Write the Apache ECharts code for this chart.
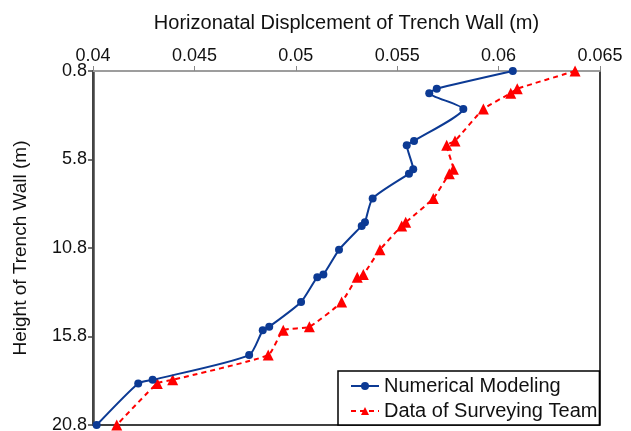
<!DOCTYPE html>
<html>
<head>
<meta charset="utf-8">
<script src="https://cdn.jsdelivr.net/npm/echarts@6/dist/echarts.min.js"></script>
<style>
  html, body { margin: 0; padding: 0; background: #fff; }
  #chart { width: 631px; height: 431px; }
</style>
</head>
<body>
<div id="chart"></div>
<script>
// Depth below the top of the trench wall (m)
const heights = [0.8, 1.8, 2.05, 2.95, 4.75, 5.0, 6.35, 6.6, 8.0, 9.35, 9.55,
                 10.9, 12.3, 12.45, 13.85, 15.25, 15.45, 16.85, 18.25, 18.45, 20.8];

// Horizontal displacement (m) from the numerical model
const numericalModeling = [0.0607, 0.05695, 0.05658, 0.05826, 0.05583, 0.05547,
                           0.05579, 0.05558, 0.05379, 0.05341, 0.05325, 0.05213,
                           0.05136, 0.05106, 0.05026, 0.04869, 0.04837, 0.0477,
                           0.04294, 0.04223, 0.04018];

// Horizontal displacement (m) measured by the surveying team
const surveyingTeam = [0.06377, 0.06092, 0.0606, 0.05925, 0.05785, 0.05744,
                       0.05777, 0.05757, 0.05678, 0.05542, 0.05522, 0.05415,
                       0.05333, 0.05303, 0.05226, 0.05067, 0.04938, 0.04864,
                       0.04393, 0.04317, 0.04117];

const seriesNames = ['Numerical Modeling', 'Data of Surveying Team'];

const pairs = (xs) => xs.map((x, i) => [x, heights[i]]);
const trimNum = (v) => String(parseFloat(v.toFixed(4)));

const font = 'Liberation Sans, Arial, sans-serif';
const chart = echarts.init(document.getElementById('chart'));

chart.setOption({
  animation: false,
  backgroundColor: '#fff',
  grid: {
    left: 93, right: 31, top: 71, bottom: 6,
    outerBoundsMode: 'none',
    containLabel: false,
    show: true, borderColor: '#000', borderWidth: 1.5, backgroundColor: 'transparent'
  },
  xAxis: {
    type: 'value', position: 'top',
    min: 0.04, max: 0.065, interval: 0.005,
    name: 'Horizonatal Displcement of Trench Wall (m)',
    nameLocation: 'middle', nameGap: 38,
    nameTextStyle: { fontFamily: font, fontSize: 20, color: '#111' },
    axisLine: { show: true, lineStyle: { color: '#bdbdbd', width: 1.5 } },
    axisTick: { show: true, inside: false, length: 5, lineStyle: { color: '#888' } },
    axisLabel: { fontFamily: font, fontSize: 18, color: '#111', margin: 6, formatter: trimNum },
    splitLine: { show: false }
  },
  yAxis: {
    type: 'value', inverse: true,
    min: 0.8, max: 20.8, interval: 5,
    name: 'Height of Trench Wall (m)',
    nameLocation: 'middle', nameGap: 63, nameRotate: 90,
    nameTextStyle: { fontFamily: font, fontSize: 19, color: '#111' },
    axisLine: { show: true, lineStyle: { color: '#444', width: 2.5 } },
    axisTick: { show: true, inside: false, length: 5, lineStyle: { color: '#444', width: 1.5 } },
    axisLabel: { fontFamily: font, fontSize: 18, color: '#111', margin: 6,
                 formatter: (v) => v.toFixed(1) },
    splitLine: { show: false }
  },
  legend: {
    orient: 'vertical',
    left: 338, top: 371,
    padding: [5, 2, 4, 12],
    itemGap: 5,
    itemWidth: 28, itemHeight: 10,
    borderColor: '#000', borderWidth: 1.5,
    backgroundColor: '#fff',
    textStyle: { fontFamily: font, fontSize: 20, color: '#111' },
    data: seriesNames
  },
  series: [
    {
      name: seriesNames[0], type: 'line',
      data: pairs(numericalModeling),
      smooth: 0.2,
      symbol: 'circle', symbolSize: 8,
      lineStyle: { color: '#0C3A94', width: 2 },
      itemStyle: { color: '#0C3A94' },
      z: 3
    },
    {
      name: seriesNames[1], type: 'line',
      data: pairs(surveyingTeam),
      smooth: 0.15,
      symbol: 'triangle', symbolSize: 11,
      lineStyle: { color: '#FF0000', width: 2, type: [5, 4] },
      itemStyle: { color: '#FF0000' },
      z: 2
    }
  ]
});
</script>
</body>
</html>
